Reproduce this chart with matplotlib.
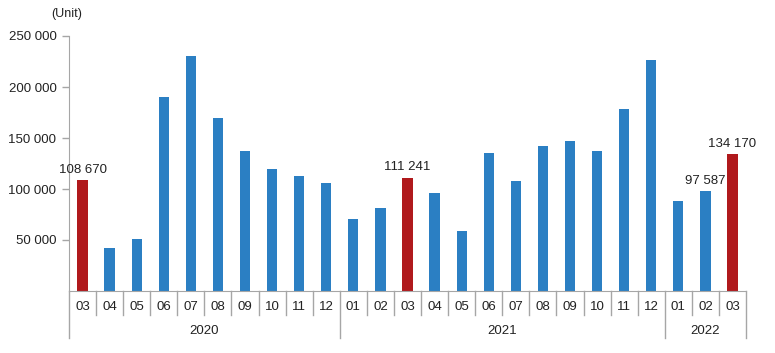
import matplotlib
matplotlib.use("Agg")
import matplotlib.pyplot as plt
import matplotlib.transforms as mtransforms

plt.rcParams['font.family'] = ['Liberation Sans', 'DejaVu Sans']

months = ["03", "04", "05", "06", "07", "08", "09", "10", "11", "12",
          "01", "02", "03", "04", "05", "06", "07", "08", "09", "10", "11", "12",
          "01", "02", "03"]
years = ["2020", "2021", "2022"]
year_counts = [10, 12, 3]
values = [108670, 42000, 50500, 190000, 230000, 170000, 137000, 119700, 112500, 106000,
          70800, 81200, 111241, 96200, 59000, 135000, 108000, 141800, 146700, 137000, 178400, 226300,
          88000, 97587, 134170]
highlight = [0, 12, 24]
labeled = [0, 12, 23, 24]
yticks = [50000, 100000, 150000, 200000, 250000]

blue = "#2B7FC3"
red = "#B0191C"
gray = "#A6A6A6"

fig = plt.figure(figsize=(7.75, 3.53), dpi=100)
ax = fig.add_axes([69/775, (353-291)/353, (746-69)/775, 255/353])

x = list(range(len(values)))
colors = [red if i in highlight else blue for i in x]
ax.bar(x, values, width=0.38, color=colors, zorder=2)

def fmt(v):
    return f"{v:,}".replace(",", " ")

for i in labeled:
    ax.text(i, values[i] + 4000, fmt(values[i]), ha='center', va='bottom',
            fontsize=9.5, color='#222222')

ax.set_xlim(-0.5, len(values) - 0.5)
ax.set_ylim(0, 250000)
ax.set_yticks(yticks)
ax.set_yticklabels([fmt(v) for v in yticks], fontsize=9.5, color='#222222')
ax.set_xticks([])
for s in ['top', 'right']:
    ax.spines[s].set_visible(False)
ax.spines['left'].set_color(gray)
ax.spines['bottom'].set_color(gray)
ax.tick_params(axis='y', length=5, color=gray, width=1, pad=4)

trans = mtransforms.blended_transform_factory(ax.transData, ax.transAxes)
# month labels and separators
for i, m in enumerate(months):
    ax.text(i, -0.064, m, transform=trans, ha='center', va='center', fontsize=9.5, color='#222222')
year_bounds = []
acc = 0
for c in year_counts:
    acc += c
    year_bounds.append(acc)
for b in range(0, len(values) + 1):
    xb = b - 0.5
    if b == 0 or b in year_bounds:
        y0 = -0.184
    else:
        y0 = -0.094
    ax.plot([xb, xb], [0, y0], transform=trans, color=gray, lw=1, clip_on=False)

start = 0
for yr, c in zip(years, year_counts):
    center = start + (c - 1) / 2
    ax.text(center, -0.157, yr, transform=trans, ha='center', va='center', fontsize=9.5, color='#222222')
    start += c

fig.text(67/775, 1 - 14/353, "(Unit)", ha='center', va='center', fontsize=9, color='#222222')

fig.savefig("out.png", dpi=100)
